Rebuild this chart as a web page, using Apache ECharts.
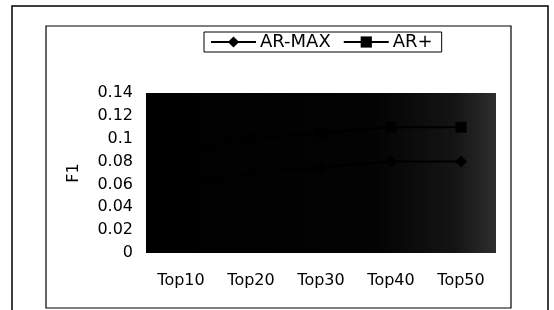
<!DOCTYPE html>
<html>
<head>
<meta charset="utf-8">
<script src="https://cdn.jsdelivr.net/npm/echarts@6/dist/echarts.min.js"></script>
<style>
  html, body { margin: 0; padding: 0; background: #fff; }
  #js_chart { width: 554px; height: 310px; }
</style>
</head>
<body>
<div id="js_chart"></div>
<script>
// values (lines are black on the dark scanned plot area, estimated)
var categories = ['Top10', 'Top20', 'Top30', 'Top40', 'Top50'];
var arMax = [0.06, 0.07, 0.075, 0.08, 0.08];
var arPlus = [0.09, 0.1, 0.105, 0.11, 0.11];
var yTicks = { min: 0, max: 0.14, step: 0.02 };

var chart = echarts.init(document.getElementById('js_chart'));
var font = '"DejaVu Sans", Arial, sans-serif';

var option = {
    backgroundColor: '#fff',
    animation: false,
    textStyle: { fontFamily: font },
    graphic: [
        { type: 'rect', shape: { x: 12, y: 6, width: 536, height: 320 },
          style: { fill: null, stroke: '#000', lineWidth: 1.5 } },
        { type: 'rect', shape: { x: 46, y: 26, width: 465, height: 282 },
          style: { fill: null, stroke: '#000', lineWidth: 1.2 } }
    ],
    legend: {
        top: 32,
        left: 204,
        padding: [1, 9, 1, 6],
        borderColor: '#000',
        borderWidth: 1,
        itemWidth: 45,
        itemHeight: 14,
        itemGap: 12,
        textStyle: { color: '#000', fontSize: 18, fontFamily: font, padding: [0, 0, 0, -1] },
        data: ['AR-MAX', 'AR+']
    },
    grid: {
        left: 146, right: 58, top: 93, bottom: 57,
        show: true,
        borderWidth: 0,
        backgroundColor: new echarts.graphic.LinearGradient(0, 0, 1, 0, [
            { offset: 0, color: '#000' },
            { offset: 0.65, color: '#030303' },
            { offset: 0.88, color: '#141414' },
            { offset: 1, color: '#2e2e2e' }
        ])
    },
    xAxis: {
        type: 'category',
        data: categories,
        boundaryGap: true,
        axisLine: { show: false },
        axisTick: { show: false },
        axisLabel: { color: '#000', fontSize: 16, margin: 20, fontFamily: font }
    },
    yAxis: {
        type: 'value',
        min: yTicks.min,
        max: yTicks.max,
        interval: yTicks.step,
        name: 'F1',
        nameLocation: 'middle',
        nameGap: 64,
        nameTextStyle: { color: '#000', fontSize: 16, fontFamily: font },
        axisLine: { show: false },
        axisTick: { show: false },
        splitLine: { show: false },
        axisLabel: { color: '#000', fontSize: 16, margin: 13, fontFamily: font }
    },
    series: [
        {
            name: 'AR-MAX', type: 'line', data: arMax,
            symbol: 'diamond', symbolSize: 12,
            itemStyle: { color: '#000' },
            lineStyle: { color: '#000', width: 2 }
        },
        {
            name: 'AR+', type: 'line', data: arPlus,
            symbol: 'rect', symbolSize: 11,
            itemStyle: { color: '#000' },
            lineStyle: { color: '#000', width: 2 }
        }
    ]
};
chart.setOption(option);
</script>
</body>
</html>
